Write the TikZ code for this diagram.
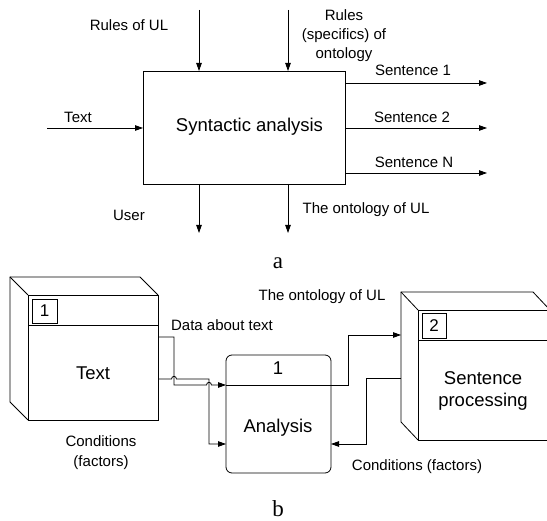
\documentclass[tikz,border=0pt]{standalone}
\usepackage{fontspec}
\setmainfont{Liberation Sans}
\newfontfamily\capfont{Liberation Serif}
\usetikzlibrary{arrows.meta}

\begin{document}
\begin{tikzpicture}[x=1pt,y=-1pt, line width=0.8pt,
  arr/.style={-{Triangle[length=8pt,width=5.5pt]}},
  lbl/.style={font=\fontsize{15}{19}\selectfont, align=center, inner sep=0pt},
  ttl/.style={font=\fontsize{18.5}{22.5}\selectfont, align=center, inner sep=0pt},
  face/.style={draw, inner sep=0pt, outer sep=0pt},
  numbox/.style={draw, inner sep=0pt, outer sep=0pt, font=\fontsize{17}{17}\selectfont},
  sublabel/.style={font=\capfont\fontsize{23}{23}\selectfont, inner sep=0pt},
]
\useasboundingbox (0,0) rectangle (547,521);

% ---------- (a) context diagram ----------
\node[face, minimum width=202pt, minimum height=113pt] (sa) at (244,127.5) {};
\node[ttl] (satxt) at (249.5,127) {Syntactic analysis};

% controls from above
\coordinate (ctl1) at (199,10);
\coordinate (ctl2) at (288,10);
\draw[arr] (ctl1) -- (ctl1 |- sa.north);
\draw[arr] (ctl2) -- (ctl2 |- sa.north);
\node[lbl] (lrul) at (129,25) {Rules of UL};
\node[lbl, font=\fontsize{15}{19}\selectfont] (lspec) at (344,36) {Rules\\(specifics) of\\ontology};

% input
\coordinate (inp) at (47,128);
\draw[arr] (inp) -- (sa.west |- inp);
\node[lbl] (ltext) at (78,117) {Text};

% outputs
\coordinate (out1) at (487,83);
\coordinate (out2) at (487,128);
\coordinate (out3) at (487,173);
\draw[arr] (sa.east |- out1) -- (out1);
\draw[arr] (sa.east |- out2) -- (out2);
\draw[arr] (sa.east |- out3) -- (out3);
\node[lbl] (ls1) at (413,70) {Sentence 1};
\node[lbl] (ls2) at (412,117) {Sentence 2};
\node[lbl] (ls3) at (414,162) {Sentence N};

% mechanisms below
\coordinate (mec1) at (199,233);
\coordinate (mec2) at (288,233);
\draw[arr] (sa.south -| mec1) -- (mec1);
\draw[arr] (sa.south -| mec2) -- (mec2);
\node[lbl] (luser) at (129,215) {User};
\node[lbl] (lont) at (366,210) {The ontology of UL};

\node[sublabel] (capa) at (278,263) {a};

% ---------- (b) process diagram ----------
% block "Text"
\node[face, minimum width=130pt, minimum height=125pt] (tbf) at (93,357.5) {};
\node[face, draw=none, minimum width=130pt, minimum height=125pt] (tbb) at (75,339.5) {};
\draw (tbb.south west) -- (tbb.north west) -- (tbb.north east) -- (tbf.north east);
\draw (tbb.north west) -- (tbf.north west);
\draw (tbb.south west) -- (tbf.south west);
\draw (tbf.west |- 0,325) -- (tbf.east |- 0,325);
\node[numbox, minimum width=25pt, minimum height=24pt] (num1) at (44.5,311) {1};
\node[ttl] (tbt) at (93,373) {Text};

% block "Analysis"
\node[face, rounded corners=6pt, minimum width=105pt, minimum height=118pt] (an) at (278.5,414) {};
\draw (an.west |- 0,385) -- (an.east |- 0,385);
\node[ttl] (annum) at (278,368) {1};
\node[ttl] (antxt) at (278,428) {Analysis};

% block "Sentence processing"
\node[face, draw=none, minimum width=132pt, minimum height=130pt] (spb) at (467,357) {};
\begin{scope}
  \clip (0,0) rectangle (547,521);
  \node[face, minimum width=132pt, minimum height=130pt] (spf) at (484,375) {};
  \draw (spb.south west) -- (spb.north west) -- (spb.north east) -- (spf.north east);
  \draw (spb.north west) -- (spf.north west);
  \draw (spb.south west) -- (spf.south west);
  \draw (spf.west |- 0,340) -- (spf.east |- 0,340);
\end{scope}
\node[numbox, minimum width=24pt, minimum height=25pt] (num2) at (434,325.5) {2};
\node[ttl] (sptxt) at (483,391) {Sentence\\processing};

% connectors from "Text" into "Analysis"
\draw[arr] (tbf.east |- 0,337) -- (174,337) -- (174,385) -- (206.5,385)
  .. controls (206.5,381.5) and (211.5,381.5) .. (211.5,385) -- (an.west |- 0,385);
\draw[arr] (tbf.east |- 0,379) -- (171.5,379)
  .. controls (171.5,375.5) and (176.5,375.5) .. (176.5,379) -- (209,379) -- (209,444)
  -- (an.west |- 0,444);

% "Analysis" to "Sentence processing" and back
\draw[arr] (an.east |- 0,385) -- (348,385) -- (348,335) -- (spb.west |- 0,335);
\draw[arr] (spb.west |- 0,378) -- (366,378) -- (366,444) -- (an.east |- 0,444);

\node[lbl] (ldata) at (222,325) {Data about text};
\node[lbl] (lont2) at (322,297) {The ontology of UL};
\node[lbl] (lcond) at (417,467) {Conditions (factors)};
\node[lbl, font=\fontsize{15}{20}\selectfont] (lcond2) at (101,453) {Conditions\\(factors)};

\node[sublabel] (capb) at (278,509) {b};
\end{tikzpicture}
\end{document}
